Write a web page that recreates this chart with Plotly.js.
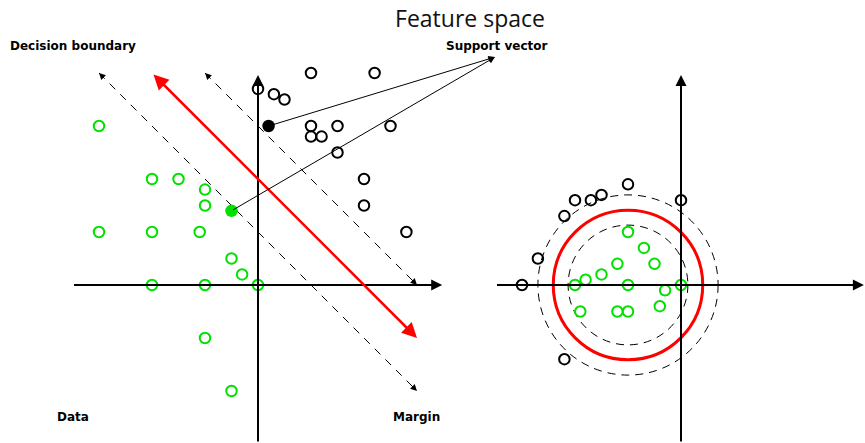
<!DOCTYPE html>
<html>
<head>
<meta charset="utf-8">
<script src="https://cdn.plot.ly/plotly-3.0.1.min.js"></script>
<style>html,body{margin:0;padding:0;background:#fff}#chart{width:865px;height:443px}</style>
</head>
<body>
<div id="chart"></div>
<script>
// ---------- Data (left panel: input space) ----------
const leftGreenX = [-6, -4, -3, -2, -2, -6, -4, -2.2, -1, -0.6, -4, -2, 0, -2, -1];
const leftGreenY = [6, 4, 4, 3.6, 3, 2, 2, 2, 1, 0.4, 0, 0, 0, -2, -4];
const leftBlackX = [0, 0.6, 1, 2, 4.4, 2, 3, 5, 2, 2.4, 3, 4, 4, 5.6];
const leftBlackY = [7.4, 7.2, 7, 8, 8, 6, 6, 6, 5.6, 5.6, 5, 4, 3, 2];
const supportX = [0.4, -1];          // filled support vectors
const supportY = [6, 2.8];
const supportColors = ['black', 'rgb(0,225,0)'];
const supportLabelTip = [8.94, 8.6];
// decision boundary & margins: [x0, y0, x1, y1]
const boundary = [-4, 8, 6, -2];
const margins = [[-6, 8, 6, -4], [-2, 8, 6, 0]];

// ---------- Data (right panel: feature space) ----------
const rightGreenX = [-4, -3.6, -3, -2.4, -2, -2, -1.4, -1, -0.6, 0, -0.8, -3.8, -2.4, -2];
const rightGreenY = [0, 0.2, 0.4, 0.8, 2, 0, 1.4, 0.8, -0.2, 0, -0.8, -1, -1, -1];
const rightBlackX = [-6, 0, -2, -3, -3.4, -4, -4.4, -5.4, -4.4];
const rightBlackY = [0, 3.2, 3.8, 3.4, 3.2, 3.2, 2.6, 1, -2.8];
const circleCenter = [-2, 0];
const circleRadii = {inner: 2.26, boundary: 2.82, outer: 3.4};

// ---------- Geometry ----------
const U = 26.5, W = 865, H = 443;
const leftOrigin = [258, 285], rightOrigin = [681, 285];
const xr1 = [-leftOrigin[0] / U, (W - leftOrigin[0]) / U];
const xr2 = [-rightOrigin[0] / U, (W - rightOrigin[0]) / U];
const yr = [(leftOrigin[1] - H) / U, leftOrigin[1] / U];

const green = 'rgb(0,225,0)';
const traces = [];
// margin dashed lines
margins.forEach(m => traces.push({x: [m[0], m[2]], y: [m[1], m[3]], mode: 'lines', xaxis: 'x', yaxis: 'y',
  line: {color: 'black', width: 1, dash: '8px,7px'}, hoverinfo: 'skip', showlegend: false}));
traces.push({x: leftGreenX, y: leftGreenY, mode: 'markers', xaxis: 'x', yaxis: 'y', showlegend: false,
  marker: {symbol: 'circle-open', size: 10.5, color: green, line: {width: 2, color: green}}});
traces.push({x: leftBlackX, y: leftBlackY, mode: 'markers', xaxis: 'x', yaxis: 'y', showlegend: false,
  marker: {symbol: 'circle-open', size: 10.5, color: 'black', line: {width: 2, color: 'black'}}});
traces.push({x: supportX, y: supportY, mode: 'markers', xaxis: 'x', yaxis: 'y', showlegend: false,
  marker: {symbol: 'circle', size: 12.5, color: supportColors}});
traces.push({x: rightGreenX, y: rightGreenY, mode: 'markers', xaxis: 'x2', yaxis: 'y', showlegend: false,
  marker: {symbol: 'circle-open', size: 10.5, color: green, line: {width: 2, color: green}}});
traces.push({x: rightBlackX, y: rightBlackY, mode: 'markers', xaxis: 'x2', yaxis: 'y', showlegend: false,
  marker: {symbol: 'circle-open', size: 10.5, color: 'black', line: {width: 2, color: 'black'}}});

const ann = [];
function arrow(xref, x, y, ax, ay, color, width, side, size) {
  ann.push({xref: xref, yref: 'y', axref: xref, ayref: 'y', x: x, y: y, ax: ax, ay: ay, text: '',
    showarrow: true, arrowhead: 2, arrowsize: size || 1, arrowwidth: width, arrowcolor: color,
    arrowside: side || 'end', standoff: 0, startstandoff: 0});
}
// axes
arrow('x', 6.95, 0, -7, 0, 'black', 2, 'end', 1.1);
arrow('x', 0, 7.92, 0, yr[0], 'black', 2, 'end', 1.1);
arrow('x2', 6.9, 0, -7, 0, 'black', 2, 'end', 1.1);
arrow('x2', 0, 7.92, 0, yr[0], 'black', 2, 'end', 1.1);
// decision boundary (double arrow)
arrow('x', boundary[2], boundary[3], boundary[0], boundary[1], 'red', 2.5, 'end+start', 1.2);
// margin arrowheads at both ends
margins.forEach(m => {
  const dx = m[2] - m[0], dy = m[3] - m[1], L = Math.hypot(dx, dy), k = 0.35 / L;
  arrow('x', m[2], m[3], m[2] - dx * k, m[3] - dy * k, 'black', 1, 'end', 1.3);
  arrow('x', m[0], m[1], m[0] + dx * k, m[1] + dy * k, 'black', 1, 'end', 1.3);
});
// support vector pointers
supportX.forEach((sx, i) => arrow('x', supportLabelTip[0], supportLabelTip[1], sx, supportY[i], 'black', 1, 'end', 1.3));

// labels
const lab = (t, x, y) => ann.push({xref: 'paper', yref: 'paper', x: x / W, y: 1 - y / H, text: '<b>' + t + '</b>',
  showarrow: false, xanchor: 'center', yanchor: 'middle', font: {family: 'DejaVu Sans', size: 12, color: 'black'}});
lab('Decision boundary', 73, 46);
lab('Support vector', 496, 46);
lab('Data', 73, 417);
lab('Margin', 416, 417);

// circles
const shapes = [];
const circ = (r, color, width, dash) => shapes.push({type: 'circle', xref: 'x2', yref: 'y',
  x0: circleCenter[0] - r, x1: circleCenter[0] + r, y0: circleCenter[1] - r, y1: circleCenter[1] + r,
  line: {color: color, width: width, dash: dash}, layer: 'below'});
circ(circleRadii.inner, 'black', 1, '8px,6px');
circ(circleRadii.outer, 'black', 1, '8px,6px');
circ(circleRadii.boundary, 'red', 3, 'solid');

const axisHidden = {showgrid: false, zeroline: false, showticklabels: false, ticks: '', showline: false, fixedrange: true};
const layout = {
  width: W, height: H, margin: {l: 0, r: 0, t: 0, b: 0}, paper_bgcolor: 'white', plot_bgcolor: 'white',
  title: {text: 'Feature space', x: 470 / W, xanchor: 'center', xref: 'container', y: 1 - 19 / H, yref: 'container', yanchor: 'middle',
    font: {family: 'Open Sans', size: 23, color: '#111'}},
  xaxis: Object.assign({range: xr1, domain: [0, 1]}, axisHidden),
  xaxis2: Object.assign({range: xr2, domain: [0, 1], overlaying: 'x'}, axisHidden),
  yaxis: Object.assign({range: yr, domain: [0, 1]}, axisHidden),
  showlegend: false, annotations: ann, shapes: shapes
};
Plotly.newPlot('chart', traces, layout, {displayModeBar: false, staticPlot: true});
</script>
</body>
</html>
